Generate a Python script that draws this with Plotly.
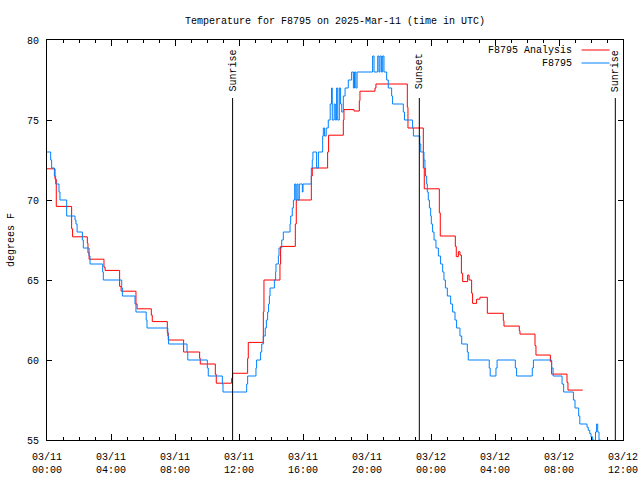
import plotly.graph_objects as go

# ---- data (hours since 2025-03-11 00:00 UTC, degrees F) ----
analysis_hours = [0.00, 0.50, 0.58, 1.54, 1.60, 2.52, 2.56, 2.63, 3.56, 3.63, 4.54, 4.63, 5.56, 5.63,
                  6.52, 6.58, 7.52, 7.58, 8.54, 9.54, 9.58, 10.52, 10.58, 11.54, 11.60, 12.54, 12.58,
                  13.52, 13.56, 14.56, 14.60, 15.52, 15.58, 16.52, 16.58, 17.54, 17.60, 18.52, 18.56,
                  19.19, 19.52, 19.56, 20.50, 20.56, 22.52, 22.56, 23.52, 23.58, 24.52, 24.58, 25.52,
                  25.58, 25.71, 25.81, 25.90, 25.98, 26.29, 26.38, 26.54, 26.60, 26.85, 27.06, 27.52,
                  28.52, 28.56, 29.52, 29.56, 30.50, 30.56, 31.46, 31.54, 32.50, 32.56, 33.48]
analysis_temps = [71.95, 71.3, 69.6, 68.2, 67.7, 67.3, 66.7, 66.3, 65.8, 65.6, 64.6, 64.3, 63.5, 63.2,
                  62.8, 62.4, 61.7, 61.25, 60.5, 60.1, 59.75, 59.1, 58.55, 58.85, 59.17, 60.1, 61.1,
                  63.0, 65.0, 66.0, 67.1, 68.5, 70.0, 71.5, 72.0, 73.0, 74.05, 75.0, 75.65,
                  75.56, 76.2, 76.8, 77.0, 77.25, 75.8, 74.5, 72.0, 70.7, 69.2, 67.75, 67.1,
                  66.46, 66.77, 66.56, 65.42, 64.9, 65.31, 65.0, 64.17, 63.54, 63.8, 63.92, 62.92,
                  62.46, 62.12, 61.83, 61.62, 60.9, 60.31, 59.9, 59.12, 58.6, 58.12, 58.12]

obs_hours = [0.00, 0.23, 0.29, 0.46, 0.54, 0.75, 0.81, 1.23, 1.75, 1.81, 1.88, 2.21, 2.27, 2.63, 2.69,
             3.48, 3.52, 4.67, 4.71, 5.50, 5.56, 6.20, 6.25, 7.55, 7.60, 8.75, 8.80, 10.02, 10.08,
             10.96, 11.00, 12.48, 12.54, 13.06, 13.10, 13.35, 13.42, 13.52, 13.64, 13.71, 13.79,
             13.85, 13.90, 13.94, 14.21, 14.29, 14.31, 14.46, 14.50, 14.67, 14.77, 15.19, 15.23,
             15.33, 15.40, 15.48, 15.55, 15.62, 15.69, 15.77, 15.96, 16.00, 16.52, 16.58, 16.62,
             16.85, 16.96, 17.23, 17.27, 17.35, 17.45, 17.58, 17.70, 17.78, 17.83, 17.95, 18.02,
             18.10, 18.17, 18.27, 18.35, 18.42, 18.52, 18.63, 18.83, 19.04, 19.15, 19.22, 19.30,
             19.38, 20.35, 20.44, 20.67, 20.75, 20.81, 20.90, 20.98, 21.06, 21.23, 21.33, 21.54,
             21.60, 22.27, 22.34, 22.85, 22.90, 23.30, 23.36, 23.56, 23.62, 23.66, 23.73, 23.77,
             23.83, 23.90, 23.98, 24.02, 24.10, 24.19, 24.31, 24.46, 24.60, 24.73, 24.81, 24.90,
             25.02, 25.23, 25.35, 25.50, 25.60, 25.81, 25.92, 26.27, 26.33, 27.64, 27.70, 28.06,
             28.13, 29.27, 29.35, 30.33, 30.40, 31.54, 31.63, 32.19, 32.29, 32.90, 33.00, 33.23,
             33.30, 33.75, 33.83, 33.92, 34.00, 34.10, 34.20, 34.28, 34.35, 34.42, 34.50, 34.60]
obs_temps = [73, 72.5, 72, 71.5, 71, 70.5, 70, 69, 68.75, 68.5, 68, 67.5, 67, 66.5, 66,
             65.5, 65, 64.5, 64, 63.5, 63, 62.5, 62, 61.5, 61, 60.5, 60, 59.5, 59,
             58.5, 58, 58.5, 59, 59.5, 60, 60.5, 61, 61.5, 62, 62.5, 63,
             63.5, 64, 64.5, 65, 65.5, 66, 66.5, 67, 67.5, 68, 68.5, 69,
             69.5, 70, 71, 70, 71, 70, 71, 70.5, 71, 72, 72.5, 73,
             72, 73, 74, 74.5, 74, 74.5, 75, 76, 77, 75, 76, 75,
             77, 75, 77, 76, 75.5, 76.5, 77, 77.5, 78, 77, 78, 77,
             78, 79, 78, 79, 78, 79, 78, 79, 78, 77.5, 77, 76.5,
             76, 75.5, 75, 74.5, 74, 73.5, 73, 72.5, 72, 71.5, 71, 70.5,
             70, 69.5, 69, 68.5, 68, 67.5, 67, 66.5, 66, 65.5, 65, 64.5,
             64, 63.5, 63, 62.5, 62, 61.5, 61, 60.5, 60, 59.5, 59, 59.5,
             60, 59.5, 59, 59.5, 60, 59.5, 59, 58.5, 58, 57.5, 57, 56.5,
             56, 55.8, 55.6, 55.4, 55.2, 55.0, 54.9, 55.5, 56, 55.5, 55.0, 54.6]

tick_hours = [0, 4, 8, 12, 16, 20, 24, 28, 32, 36]
tick_labels = ["03/11<br>00:00", "03/11<br>04:00", "03/11<br>08:00", "03/11<br>12:00",
               "03/11<br>16:00", "03/11<br>20:00", "03/12<br>00:00", "03/12<br>04:00",
               "03/12<br>08:00", "03/12<br>12:00"]
y_ticks = [55, 60, 65, 70, 75, 80]

sun_labels = ["Sunrise", "Sunset", "Sunrise"]
sun_hours = [11.60, 23.27, 35.52]

series_names = ["F8795 Analysis", "F8795"]
series_colors = ["#ff0000", "#0080ff"]

FONT = "Liberation Mono, DejaVu Sans Mono, monospace"

fig = go.Figure()
fig.add_trace(go.Scatter(x=analysis_hours, y=analysis_temps, mode="lines", name=series_names[0],
                         line=dict(color=series_colors[0], width=1, shape="hv"), showlegend=False))
fig.add_trace(go.Scatter(x=obs_hours, y=obs_temps, mode="lines", name=series_names[1],
                         line=dict(color=series_colors[1], width=1, shape="hv"), showlegend=False))

# sunrise / sunset markers
for lbl, h in zip(sun_labels, sun_hours):
    fig.add_shape(type="line", xref="x", yref="paper", x0=h, x1=h, y0=0, y1=0.855,
                  line=dict(color="black", width=1))
    fig.add_annotation(x=h, y=0.9225, xref="x", yref="paper", text=lbl, textangle=-90,
                       showarrow=False, xanchor="center", yanchor="middle",
                       font=dict(family=FONT, size=10, color="black"))

# gnuplot-style key (text, then line sample)
key_y = [0.975, 0.9425]
for name, col, ky in zip(series_names, series_colors, key_y):
    fig.add_annotation(x=0.915, y=ky, xref="paper", yref="paper", text=name, showarrow=False,
                       xanchor="right", yanchor="middle",
                       font=dict(family=FONT, size=10, color="black"))
    fig.add_shape(type="line", xref="paper", yref="paper", x0=0.928, x1=0.9766, y0=ky, y1=ky,
                  line=dict(color=col, width=1))

fig.update_xaxes(range=[0, 36], tickmode="array", tickvals=tick_hours, ticktext=tick_labels,
                 ticks="inside", ticklen=6, tickwidth=1, tickcolor="black",
                 minor=dict(tickmode="linear", tick0=0, dtick=1, ticks="inside", ticklen=3,
                            tickcolor="black", tickwidth=1, showgrid=False),
                 showline=True, linecolor="black", linewidth=1, mirror="ticks",
                 showgrid=False, zeroline=False, ticklabelstandoff=7, automargin=False,
                 tickfont=dict(family=FONT, size=10, color="black"))
fig.update_yaxes(range=[55, 80], tickmode="array", tickvals=y_ticks,
                 ticks="inside", ticklen=5, tickwidth=1, tickcolor="black",
                 showline=True, linecolor="black", linewidth=1, mirror="ticks",
                 showgrid=False, zeroline=False, ticklabelstandoff=5,
                 tickfont=dict(family=FONT, size=10, color="black"),
                 title=dict(text="degrees F", standoff=10, font=dict(family=FONT, size=10, color="black")),
                 automargin=False)

fig.update_layout(
    template="none",
    width=640, height=480,
    margin=dict(l=47, r=17, t=40, b=40, autoexpand=False),
    paper_bgcolor="white", plot_bgcolor="white",
    font=dict(family=FONT, size=10, color="black"),
    showlegend=False,
    title=dict(text="Temperature for F8795 on 2025-Mar-11 (time in UTC)", xref="paper", x=0.5,
               xanchor="center", yref="container", y=0.958, yanchor="middle",
               font=dict(family=FONT, size=10, color="black")),
)

fig.write_html("out.html", config={"displayModeBar": False},
               post_script="document.body.style.margin='0px';document.body.style.overflow='hidden';")
